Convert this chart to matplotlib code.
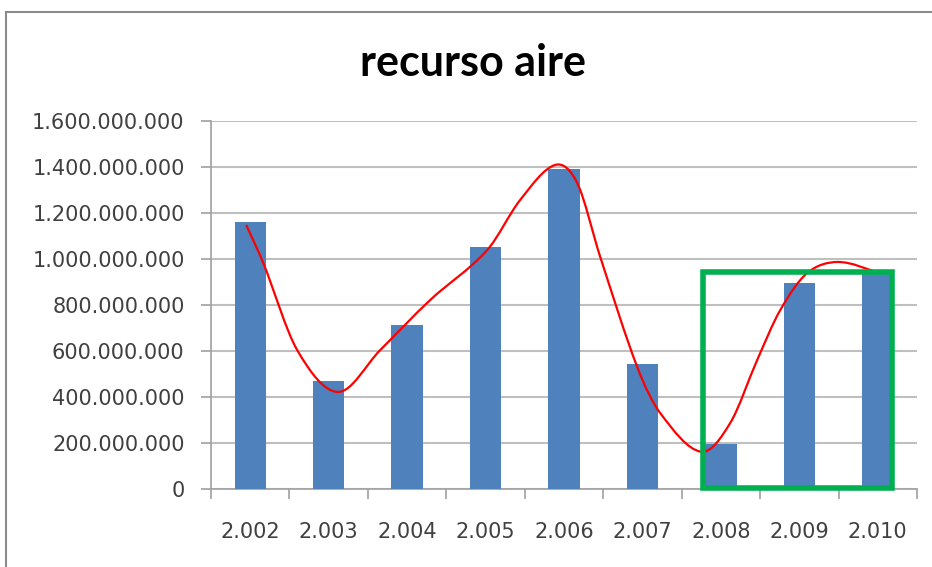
import numpy as np
import matplotlib
matplotlib.use("Agg")
import matplotlib.pyplot as plt
from matplotlib.path import Path
from matplotlib.patches import PathPatch, Rectangle
from matplotlib.ticker import FuncFormatter, FixedLocator

# data
years = ["2.002", "2.003", "2.004", "2.005", "2.006", "2.007", "2.008", "2.009", "2.010"]
valores = [1161e6, 470e6, 713e6, 1052e6, 1391e6, 543e6, 196e6, 896e6, 940e6]

# hand drawn red trend line (category position, value)
curva_x = [-0.051, 0.166, 0.599, 1.122, 1.657, 2.295, 3.021, 3.442, 3.888, 4.169,
           4.462, 4.934, 5.227, 5.750, 6.119, 6.463, 6.757, 7.101, 7.496, 8.031]
curva_y = [1148e6, 983e6, 604e6, 422e6, 604e6, 822e6, 1039e6, 1257e6, 1409e6, 1330e6,
           1009e6, 530e6, 330e6, 162e6, 287e6, 561e6, 778e6, 939e6, 987e6, 939e6]

# green highlight box (categories 2008-2010)
caja_x = [5.775, 8.18]
caja_y = [4e6, 943e6]

fig = plt.figure(figsize=(9.32, 5.67), dpi=100)
ax = fig.add_axes([211/932, 78/567, 706/932, 368/567])

x = np.arange(len(years))
ax.bar(x, valores, width=0.4, color="#4F81BD", zorder=3)

ax.set_xlim(-0.5, 8.5)
ax.set_ylim(0, 1.6e9)
ax.set_yticks(np.arange(0, 1.6e9 + 1, 2e8))
ax.yaxis.set_major_formatter(FuncFormatter(lambda v, p: "{:,.0f}".format(v).replace(",", ".")))
ax.grid(axis="y", color="#BFBFBF", lw=1.5, zorder=0)

ax.set_xticks(x)
ax.set_xticklabels(years)
ax.xaxis.set_minor_locator(FixedLocator(np.arange(-0.5, 9, 1)))
ax.tick_params(axis="x", which="major", length=0, pad=24, labelsize=15, labelcolor="#404040")
ax.tick_params(axis="x", which="minor", length=7, width=1.2, color="#A0A0A0")
ax.tick_params(axis="y", length=7, width=1.2, color="#A0A0A0", pad=12, labelsize=15, labelcolor="#404040")

for s in ["top", "right"]:
    ax.spines[s].set_visible(False)
for s in ["left", "bottom"]:
    ax.spines[s].set_color("#A0A0A0")
    ax.spines[s].set_linewidth(1.2)

# smooth curve: cubic hermite (as y(x)) drawn with bezier segments
cx = np.array(curva_x)
cy = np.array(curva_y)
n = len(cx)
m = np.zeros(n)
m[0] = (cy[1] - cy[0]) / (cx[1] - cx[0])
m[-1] = (cy[-1] - cy[-2]) / (cx[-1] - cx[-2])
for i in range(1, n - 1):
    m[i] = (cy[i + 1] - cy[i - 1]) / (cx[i + 1] - cx[i - 1])
verts = [(cx[0], cy[0])]
codes = [Path.MOVETO]
for i in range(n - 1):
    h = cx[i + 1] - cx[i]
    verts += [(cx[i] + h / 3, cy[i] + m[i] * h / 3),
              (cx[i + 1] - h / 3, cy[i + 1] - m[i + 1] * h / 3),
              (cx[i + 1], cy[i + 1])]
    codes += [Path.CURVE4] * 3
ax.add_patch(PathPatch(Path(verts, codes), fill=False, edgecolor="red", lw=1.6, zorder=5))

ax.add_patch(Rectangle((caja_x[0], caja_y[0]), caja_x[1] - caja_x[0], caja_y[1] - caja_y[0],
                       fill=False, edgecolor="#00B050", lw=4, zorder=6, clip_on=False))

fig.text(473/932, 1 - 63/567, "recurso aire", ha="center", va="center",
         fontsize=31, fontweight="bold", family="Lato", color="black")

# chart border (gray frame at left and top)
fig.add_artist(plt.Line2D([6/932, 6/932], [0, 1 - 12/567], color="#8C8C8C", lw=1.5))
fig.add_artist(plt.Line2D([6/932, 1], [1 - 12/567, 1 - 12/567], color="#8C8C8C", lw=1.5))

fig.savefig("out.png", dpi=100)
